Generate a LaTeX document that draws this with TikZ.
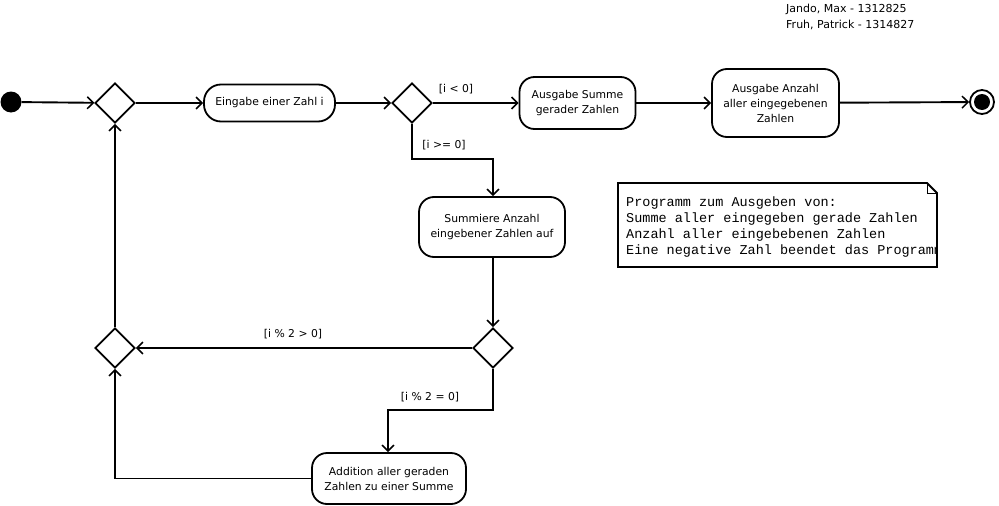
\documentclass[tikz,border=0pt]{standalone}
\usepackage{fontspec}
\setmainfont{DejaVu Sans}
\newfontfamily\notefont{Liberation Mono}
\usetikzlibrary{shapes.geometric,arrows.meta,positioning}
\begin{document}
\begin{tikzpicture}[x=1pt,y=-1pt,
  flow/.style={line width=1.9pt,-{Straight Barb[length=6pt,width=12pt,line width=1.5pt]}},
  action/.style={draw,line width=1.8pt,rounded corners=15pt,align=center,
    font=\fontsize{10.8}{15}\selectfont,inner sep=0pt},
  decision/.style={draw,diamond,line width=1.8pt,minimum width=40pt,minimum height=40pt,inner sep=0pt},
  guard/.style={font=\fontsize{10.8}{13}\selectfont,inner sep=0pt}]
\useasboundingbox (0,0) rectangle (999,506);

% start and end states
\node[circle,fill=black,minimum size=21pt,inner sep=0pt] (start) at (11,102) {};
\node[circle,draw,line width=1.8pt,minimum size=24pt,inner sep=0pt] (stop) at (982,102) {};
\fill (stop.center) circle (8);

% decisions
\node[decision] (d1) at (115,103) {};
\node[decision] (d2) at (412,103) {};
\node[decision] (d3) at (493,348) {};
\node[decision] (d4) at (115,348) {};

% actions
\node[action,minimum width=131pt,minimum height=37pt,rounded corners=17pt] (in) at (269.5,103) {Eingabe einer Zahl i};
\node[action,minimum width=116pt,minimum height=52pt] (outsum) at (577.5,103) {Ausgabe Summe\\gerader Zahlen};
\node[action,minimum width=127pt,minimum height=68pt] (outcnt) at (775.5,103) {Ausgabe Anzahl\\aller eingegebenen\\Zahlen};
\node[action,minimum width=146pt,minimum height=60pt] (count) at (492,227) {Summiere Anzahl\\eingebener Zahlen auf};
\node[action,minimum width=154pt,minimum height=51pt] (add) at (389,478.5) {Addition aller geraden\\Zahlen zu einer Summe};

% control flow
\draw[flow] (start) -- (d1);
\draw[flow] (d1) -- (in);
\draw[flow] (in) -- (d2);
\draw[flow] (d2) -- (outsum);
\draw[flow] (outsum) -- (outcnt);
\draw[flow] (outcnt) -- (stop);
\draw[flow] (d2.south) |- (493,159) -- (count.north -| 493,0);
\draw[flow] (count.south -| 493,0) -- (d3.north);
\draw[flow] (d3) -- (d4);
\draw[flow] (d3.south) |- (388,410) -- (add.north -| 388,0);
\draw[flow] (add.west) -| (d4.south);
\draw[flow] (d4.north) -- (d1.south);

% guards
\node[guard] at (456,89) {[i < 0]};
\node[guard] at (444,145) {[i >= 0]};
\node[guard] at (293,334) {[i \% 2 > 0]};
\node[guard] at (430,397) {[i \% 2 = 0]};

% note with folded corner
\draw[line width=1.8pt] (618,183) -- (927,183) -- (937,193) -- (937,267) -- (618,267) -- cycle;
\draw[line width=0.7pt] (927,183) -- (927,193) -- (937,193);
\begin{scope}
\clip (618,183) rectangle (937,267);
\node[anchor=north west,align=left,inner sep=0pt,font=\notefont\fontsize{13.5}{16}\selectfont] (note) at (626,197)
  {Programm zum Ausgeben von:\\Summe aller eingegeben gerade Zahlen\\Anzahl aller eingebebenen Zahlen\\Eine negative Zahl beendet das Programm};
\end{scope}

% authors
\node[anchor=north west,align=left,inner sep=0pt,font=\fontsize{11}{16}\selectfont] (authors) at (786,4)
  {Jando, Max - 1312825\\Fruh, Patrick - 1314827};
\end{tikzpicture}
\end{document}
